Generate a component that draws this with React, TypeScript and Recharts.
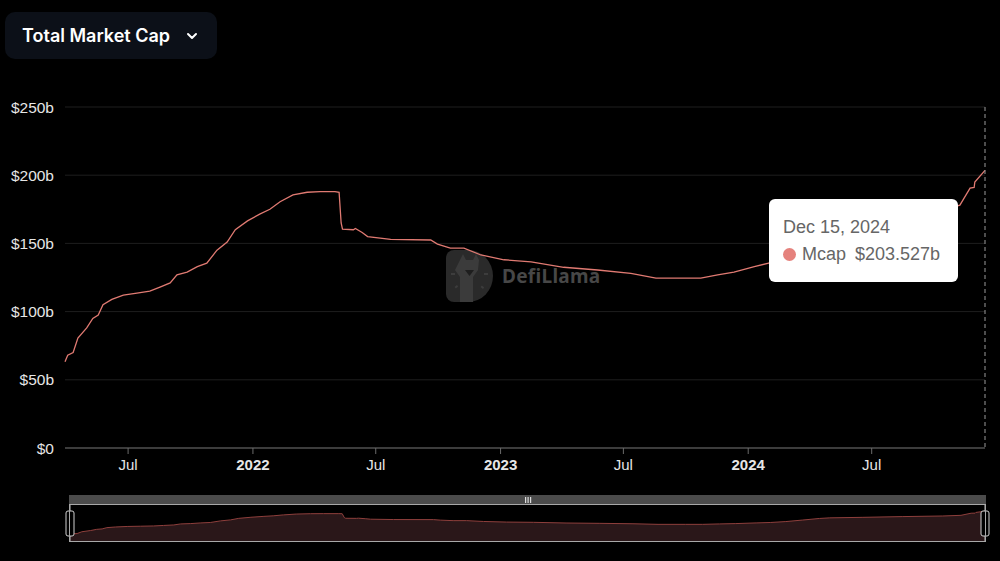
import React from "react";
import {
  Area,
  AreaChart,
  Brush,
  CartesianGrid,
  Line,
  LineChart,
  Tooltip,
  XAxis,
  YAxis,
} from "recharts";

// roughly one point per 2-6 weeks
const dates = [
  "2021-03-30", "2021-04-03", "2021-04-11", "2021-04-18", "2021-05-01", "2021-05-10",
  "2021-05-18", "2021-05-25", "2021-06-07", "2021-06-24", "2021-07-14", "2021-08-02",
  "2021-08-17", "2021-09-01", "2021-09-11", "2021-09-26", "2021-10-11", "2021-10-25",
  "2021-11-09", "2021-11-24", "2021-12-06", "2021-12-24", "2022-01-11", "2022-01-26",
  "2022-02-10", "2022-03-01", "2022-03-22", "2022-04-10", "2022-05-02", "2022-05-08",
  "2022-05-11", "2022-05-13", "2022-05-29", "2022-06-01", "2022-06-11", "2022-06-19",
  "2022-07-23", "2022-09-20", "2022-09-30", "2022-10-19", "2022-11-08", "2022-12-03",
  "2023-01-06", "2023-02-15", "2023-04-04", "2023-05-24", "2023-07-12", "2023-08-18",
  "2023-09-28", "2023-10-23", "2023-11-17", "2023-12-11", "2024-01-10", "2024-01-31",
  "2024-02-23", "2024-03-19", "2024-04-13", "2024-04-28", "2024-06-16", "2024-08-14",
  "2024-10-12", "2024-11-08", "2024-11-23", "2024-11-29", "2024-11-30", "2024-12-15",
];

const mcap = [
  63.3, 68, 70, 80.6, 88, 95,
  97.5, 105, 109, 112, 113.5, 115,
  118, 121, 127, 129, 133, 135.5,
  145, 151, 160, 166.5, 171.5, 175,
  180.5, 185.5, 187.5, 188, 188, 187.5,
  165, 160.5, 160, 161, 158, 155,
  153, 152.5, 149.5, 146.5, 146.5, 141.5,
  138, 136.5, 132.5, 130.5, 128, 124.5,
  124.5, 124.5, 127, 129, 133, 135.5,
  141, 150, 159.5, 163, 166, 170.5,
  174, 178, 190.5, 191, 195, 203.527,
];

const yTicks = [0, 50, 100, 150, 200, 250];

const xTickDates = ["2021-07-01", "2022-01-01", "2022-07-01", "2023-01-01", "2023-07-01", "2024-01-01", "2024-07-01"];
const xTickLabels = ["Jul", "2022", "Jul", "2023", "Jul", "2024", "Jul"];

const data = dates.map((d, i) => ({ t: Date.parse(d), mcap: mcap[i] }));
const xTicks = xTickDates.map((d) => Date.parse(d));

const LINE = "#e07a72";
const FONT = "'Liberation Sans', Arial, sans-serif";

function XTick({ x, y, payload }: any) {
  const i = xTicks.indexOf(payload.value);
  const label = xTickLabels[i] ?? "";
  const isYear = /^\d{4}$/.test(label);
  return (
    <text
      x={x}
      y={y}
      dy={10}
      textAnchor="middle"
      fill="#e6e6e6"
      fontFamily={FONT}
      fontSize={15}
      fontWeight={isYear ? 700 : 400}
    >
      {label}
    </text>
  );
}

function fmtDate(t: number) {
  return new Date(t).toLocaleDateString("en-US", {
    month: "short",
    day: "numeric",
    year: "numeric",
    timeZone: "UTC",
  });
}

function TipBox({ active, payload }: any) {
  if (!active || !payload || !payload.length) return null;
  const p = payload[0].payload;
  return (
    <div
      style={{
        width: 189,
        height: 83,
        boxSizing: "border-box",
        background: "#fff",
        borderRadius: 6,
        padding: "15px 0 0 14px",
        fontFamily: FONT,
        color: "#666",
        fontSize: 18,
        lineHeight: "27px",
      }}
    >
      <div>{fmtDate(p.t)}</div>
      <div style={{ display: "flex", alignItems: "center" }}>
        <span
          style={{
            display: "inline-block",
            width: 13,
            height: 13,
            borderRadius: "50%",
            background: "#e5827d",
            marginRight: 6,
          }}
        />
        <span>Mcap</span>
        <span style={{ marginLeft: 9 }}>${p.mcap.toFixed(3)}b</span>
      </div>
    </div>
  );
}

function Handle({ x, y, height }: any) {
  // travellerWidth is 2, so the handle centre sits one pixel right of x
  const cx = x + 1;
  return (
    <g>
      <line x1={cx} x2={cx} y1={y} y2={y + height} stroke="#bdbdbd" strokeWidth={1} />
      <rect x={cx - 4} y={y + 7} width={8} height={25} rx={2} fill="#000" stroke="#d0d0d0" strokeWidth={1} />
    </g>
  );
}

function Watermark() {
  return (
    <div style={{ position: "absolute", left: 446, top: 250, display: "flex", alignItems: "center", pointerEvents: "none" }}>
      <svg width={47} height={52} viewBox="0 0 47 52">
        <path d="M8 0 H22 A25 26 0 0 1 22 52 H8 A8 8 0 0 1 0 44 V8 A8 8 0 0 1 8 0 Z" fill="#2a2a2a" />
        <path d="M14 10 L17 4 L20 10 H27 L30 4 L33 10 L32 20 L27 27 L27 52 H14 L14 27 L9 20 Z" fill="#3b3b3b" />
        <path d="M19 20 H28 L23.5 26 Z" fill="#1e1e1e" />
        <rect x={5} y={23} width={4} height={2} fill="#3d3d3d" />
        <rect x={38} y={23} width={4} height={2} fill="#3d3d3d" />
        <rect x={9} y={36} width={3} height={2} fill="#3d3d3d" transform="rotate(-40 10 37)" />
        <rect x={35} y={36} width={3} height={2} fill="#3d3d3d" transform="rotate(40 36 37)" />
      </svg>
      <span
        style={{
          marginLeft: 9,
          fontFamily: "'Noto Sans', sans-serif",
          fontWeight: 700,
          fontSize: 19,
          color: "#474747",
          letterSpacing: 0.3,
        }}
      >
        DefiLlama
      </span>
    </div>
  );
}

export default function App() {
  const last = data.length - 1;
  return (
    <div
      style={{
        position: "fixed",
        left: 0,
        top: 0,
        width: 1000,
        height: 561,
        background: "#000",
        overflow: "hidden",
      }}
    >
      <div
        style={{
          position: "absolute",
          left: 5,
          top: 12,
          width: 212,
          height: 47,
          boxSizing: "border-box",
          background: "#0c1018",
          borderRadius: 10,
          display: "flex",
          alignItems: "center",
          paddingLeft: 17,
          color: "#fff",
          fontFamily: "Inter, sans-serif",
          fontWeight: 600,
          fontSize: 18,
        }}
      >
        Total Market Cap
        <svg width={12} height={8} viewBox="0 0 12 8" style={{ marginLeft: 16 }}>
          <path d="M2 2 L6 6 L10 2" stroke="#fff" strokeWidth={2} fill="none" strokeLinecap="round" strokeLinejoin="round" />
        </svg>
      </div>

      <Watermark />

      {/* overview strip under the brush handles */}
      <div style={{ position: "absolute", left: 69, top: 504 }}>
        <AreaChart width={917} height={38} data={data} margin={{ top: 0, right: 0, bottom: 0, left: 0 }}>
          <XAxis dataKey="t" type="number" domain={["dataMin", "dataMax"]} hide />
          <YAxis domain={[20, 245]} hide />
          <Area
            type="linear"
            dataKey="mcap"
            stroke="#8e3f3c"
            strokeWidth={1}
            fill="#2a1719"
            fillOpacity={1}
            isAnimationActive={false}
          />
        </AreaChart>
      </div>

      <LineChart
        width={1000}
        height={561}
        data={data}
        margin={{ top: 107, right: 15, left: 0, bottom: 45 }}
        style={{ position: "absolute", left: 0, top: 0 }}
      >
        <CartesianGrid vertical={false} stroke="#1e1e1e" />
        <XAxis
          dataKey="t"
          type="number"
          scale="time"
          domain={["dataMin", "dataMax"]}
          ticks={xTicks}
          tick={<XTick />}
          tickSize={6}
          tickMargin={6}
          stroke="#6a6a6a"
          interval={0}
        />
        <YAxis
          domain={[0, 250]}
          ticks={yTicks}
          width={65}
          axisLine={false}
          tickLine={false}
          tickMargin={5}
          tick={{ fill: "#e6e6e6", fontSize: 15.5, fontFamily: FONT }}
          tickFormatter={(v: number) => (v === 0 ? "$0" : `$${v}b`)}
        />
        <Tooltip
          active
          defaultIndex={last}
          position={{ x: 769, y: 199 }}
          isAnimationActive={false}
          cursor={{ stroke: "#9a9a9a", strokeWidth: 1, strokeDasharray: "4 3" }}
          wrapperStyle={{ outline: "none", zIndex: 5 }}
          content={<TipBox />}
        />
        <Line
          type="linear"
          dataKey="mcap"
          stroke={LINE}
          strokeWidth={1.3}
          dot={false}
          activeDot={false}
          isAnimationActive={false}
        />
        <Brush
          dataKey="t"
          x={69}
          y={504}
          width={917}
          height={38}
          travellerWidth={2}
          fill="transparent"
          stroke="transparent"
          traveller={(p: any) => <Handle {...p} />}
          tickFormatter={() => ""}
        />
      </LineChart>

      <div
        style={{
          position: "absolute",
          left: 69,
          top: 495,
          width: 917,
          height: 9,
          background: "#4b4b4b",
          pointerEvents: "none",
        }}
      >
        <svg width={8} height={6} style={{ position: "absolute", left: 455, top: 2 }}>
          <rect x={1} y={0} width={1.2} height={6} fill="#ddd" />
          <rect x={3.5} y={0} width={1.2} height={6} fill="#ddd" />
          <rect x={6} y={0} width={1.2} height={6} fill="#ddd" />
        </svg>
      </div>
      <div
        style={{
          position: "absolute",
          left: 69,
          top: 504,
          width: 917,
          height: 38,
          boxSizing: "border-box",
          border: "1px solid #a8a8a8",
          pointerEvents: "none",
        }}
      />
    </div>
  );
}
